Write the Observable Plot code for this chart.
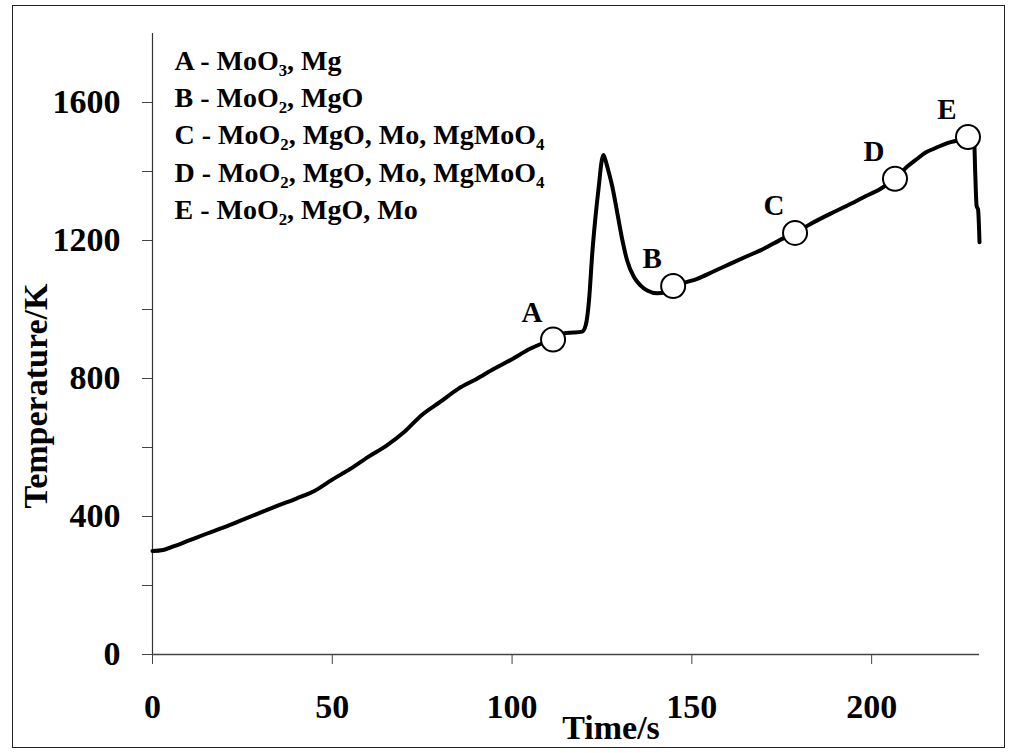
<!DOCTYPE html>
<html>
<head>
<meta charset="utf-8">
<script src="https://cdn.jsdelivr.net/npm/d3@7"></script>
<script src="https://cdn.jsdelivr.net/npm/@observablehq/plot@0.6"></script>
<style>
  html, body { margin: 0; padding: 0; background: #fff; }
  #wrap { position: relative; width: 1011px; height: 753px; }
  #frame { position: absolute; left: 12px; top: 5px; width: 993px; height: 743px;
           border: 1.5px solid #222; box-sizing: border-box; }
  #chart { position: absolute; left: 0; top: 0; }
</style>
</head>
<body>
<div id="wrap"><div id="frame"></div><div id="chart"></div></div>
<script>
// Temperature history of the MoO3 + Mg mixture during heating
const times = [0, 3, 6, 10, 15, 20, 25, 30, 35, 40, 45, 50, 55, 60, 65, 70, 75, 80, 85, 90,
  95, 100, 105, 108, 111.4, 113, 115, 117, 119.5, 120.5, 121.4, 122.3, 123.2, 124.1, 125, 125.4,
  126, 126.5, 127.9, 129.3, 130.7, 132, 133.9, 135.7, 137.6, 140.4, 142.5, 144.8, 148, 151.5,
  156, 160.8, 165, 170, 175, 178.7, 183, 188.6, 193, 197.9, 202.5, 206.5, 210, 212.7, 215,
  217.3, 220, 222, 224, 226.8, 228, 228.5, 228.8, 229.2, 229.6, 230];
const temps = [300, 303, 314, 330, 350, 369, 390, 411, 432, 452, 474, 507, 538, 573, 605, 645,
  695, 732, 770, 798, 828, 856, 886, 900, 913, 925, 932, 933, 936, 955, 1026, 1162, 1268, 1355,
  1435, 1448, 1432, 1413, 1355, 1278, 1200, 1142, 1094, 1070, 1055, 1047, 1050, 1068, 1078,
  1089, 1110, 1133, 1153, 1176, 1204, 1222, 1248, 1278, 1300, 1326, 1350, 1379, 1415, 1437,
  1455, 1466, 1478, 1485, 1490, 1500, 1510, 1495, 1400, 1300, 1290, 1195];

// Sampling points A–E and the phases found there
const pointLabels = ["A", "B", "C", "D", "E"];
const pointTimes = [111.4, 144.8, 178.7, 206.5, 226.8];
const pointTemps = [913, 1068, 1222, 1379, 1500];
const legendLines = [
  "A - MoO₃, Mg",
  "B - MoO₂, MgO",
  "C - MoO₂, MgO, Mo, MgMoO₄",
  "D - MoO₂, MgO, Mo, MgMoO₄",
  "E - MoO₂, MgO, Mo"
];

const xTicks = [0, 50, 100, 150, 200];
const yTicks = [0, 200, 400, 600, 800, 1000, 1200, 1400, 1600];
const yLabelStep = 400;

const curve = times.map((t, i) => ({t, T: temps[i]}));
const points = pointLabels.map((label, i) => ({label, t: pointTimes[i], T: pointTemps[i]}));

const serif = "'Liberation Serif', 'Times New Roman', 'DejaVu Serif', serif";

const chart = Plot.plot({
  width: 1011,
  height: 753,
  marginLeft: 152,
  marginRight: 32,
  marginTop: 33,
  marginBottom: 99,
  x: {domain: [0, 230]},
  y: {domain: [0, 1800]},
  style: {fontFamily: serif, fontWeight: "bold", background: "transparent", color: "black"},
  marks: [
    Plot.axisY(yTicks, {tickSize: 10, tickPadding: 22, stroke: "#444", fontSize: 34,
      tickFormat: d => d % yLabelStep === 0 ? String(d) : "", label: null}),
    Plot.axisX(xTicks, {tickSize: 10, tickPadding: 29, stroke: "#444", fontSize: 34,
      tickFormat: d => String(d), label: null}),
    Plot.ruleX([0], {stroke: "#333", strokeWidth: 1.2}),
    Plot.ruleY([0], {stroke: "#444", strokeWidth: 1.6}),
    Plot.line(curve, {x: "t", y: "T", stroke: "black", strokeWidth: 4, strokeLinejoin: "round",
      curve: "monotone-x"}),
    Plot.dot(points, {x: "t", y: "T", r: 12, fill: "white", stroke: "black", strokeWidth: 2}),
    Plot.text(points, {x: "t", y: "T", text: "label", dx: -21, dy: -27, fontSize: 29, fill: "black"}),
    Plot.text([legendLines.join("\n")], {frameAnchor: "top-left", dx: 22, dy: 10, lineAnchor: "top",
      textAnchor: "start", fontSize: 28, lineHeight: 1.33, fill: "black"}),
    Plot.text(["Time/s"], {frameAnchor: "bottom", dx: 45, dy: 84, fontSize: 34, fill: "black"}),
    Plot.text(["Temperature/K"], {frameAnchor: "left", textAnchor: "middle", rotate: -90,
      dx: -116, dy: 52, fontSize: 34, fill: "black"})
  ]
});

document.getElementById("chart").appendChild(chart);
</script>
</body>
</html>
